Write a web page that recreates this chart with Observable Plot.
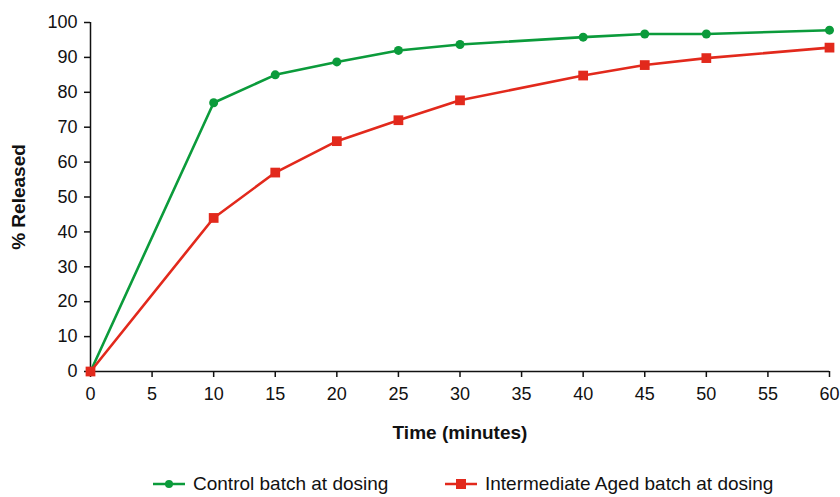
<!DOCTYPE html>
<html>
<head>
<meta charset="utf-8">
<script src="https://cdn.jsdelivr.net/npm/d3@7"></script>
<script src="https://cdn.jsdelivr.net/npm/@observablehq/plot@0.6"></script>
<style>
  html, body { margin: 0; padding: 0; background: #fff; }
  body { width: 840px; height: 497px; overflow: hidden; font-family: "Liberation Sans", Arial, sans-serif; }
  #legend { position: relative; height: 37px; font-size: 19px; color: #111; }
  .item { position: absolute; top: 13px; display: flex; align-items: center; white-space: nowrap; line-height: 22px; }
  .item svg { margin-right: 8px; }
</style>
</head>
<body>
<div id="chart"></div>
<div id="legend"></div>
<script>
const times = [0, 10, 15, 20, 25, 30, 40, 45, 50, 60];
const controlValues = [0, 77, 85, 88.7, 92, 93.7, 95.8, 96.7, 96.7, 97.8];
const agedValues = [0, 44, 57, 66, 72, 77.7, 84.8, 87.8, 89.8, 92.8];
const seriesNames = ["Control batch at dosing", "Intermediate Aged batch at dosing"];
const seriesColors = ["#0b9b3b", "#e2291c"];
const xTicks = d3.range(0, 61, 5);
const yTicks = d3.range(0, 101, 10);

const control = times.map((t, i) => ({t, v: controlValues[i]}));
const aged = times.map((t, i) => ({t, v: agedValues[i]}));

const chart = Plot.plot({
  width: 840,
  height: 460,
  marginLeft: 90,
  marginRight: 11,
  marginTop: 22,
  marginBottom: 89,
  style: {fontFamily: "'Liberation Sans', Arial, sans-serif", fontSize: "18px", color: "#111"},
  x: {domain: [0, 60]},
  y: {domain: [0, 100]},
  marks: [
    Plot.axisX({ticks: xTicks, tickSize: 6, tickPadding: 10, label: null, stroke: "#111", strokeWidth: 1.5, strokeOpacity: 1, fontSize: 18}),
    Plot.axisY({ticks: yTicks, tickSize: 6, tickPadding: 7, label: null, stroke: "#111", strokeWidth: 1.5, strokeOpacity: 1, fontSize: 18}),
    Plot.ruleY([0], {stroke: "#111", strokeWidth: 1.5}),
    Plot.ruleX([0], {stroke: "#111", strokeWidth: 1.5}),
    Plot.line(control, {x: "t", y: "v", stroke: seriesColors[0], strokeWidth: 2.6}),
    Plot.dot(control, {x: "t", y: "v", fill: seriesColors[0], r: 4.5, symbol: "circle"}),
    Plot.line(aged, {x: "t", y: "v", stroke: seriesColors[1], strokeWidth: 2.6}),
    Plot.dot(aged, {x: "t", y: "v", fill: seriesColors[1], r: 5.5, symbol: "square"}),
    Plot.text(["Time (minutes)"], {frameAnchor: "bottom", dy: 67, fontWeight: "bold", fontSize: 19, fill: "#111", textAnchor: "middle"}),
    Plot.text(["% Released"], {frameAnchor: "left", rotate: -90, dx: -72, fontWeight: "bold", fontSize: 19, fill: "#111", textAnchor: "middle"})
  ]
});
document.getElementById("chart").appendChild(chart);

const legend = document.getElementById("legend");
const lefts = [153, 445];
seriesNames.forEach((name, i) => {
  const item = document.createElement("div");
  item.className = "item";
  item.style.left = lefts[i] + "px";
  const sym = i === 0
    ? `<circle cx="16" cy="8" r="4" fill="${seriesColors[i]}"/>`
    : `<rect x="11" y="3" width="10" height="10" fill="${seriesColors[i]}"/>`;
  item.innerHTML = `<svg width="32" height="16"><line x1="0" y1="8" x2="32" y2="8" stroke="${seriesColors[i]}" stroke-width="2.5"/>${sym}</svg><span>${name}</span>`;
  legend.appendChild(item);
});
</script>
</body>
</html>
